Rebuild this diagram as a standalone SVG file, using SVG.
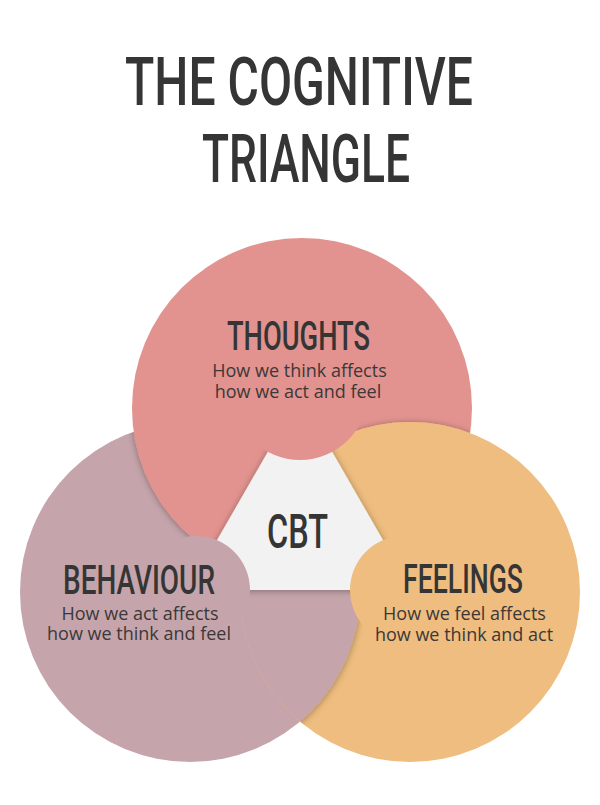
<svg xmlns="http://www.w3.org/2000/svg" width="600" height="805" viewBox="0 0 600 805">
  <style>
    .head { font-family: Roboto, "Liberation Sans", sans-serif; font-weight: 500; fill: #353535; }
    .body { font-family: "Open Sans", "Noto Sans", sans-serif; font-size: 18px; fill: #3c3838; text-anchor: middle; }
    .pink { fill: #e2938f; }
    .mauve { fill: #c5a5ab; }
    .orange { fill: #eebd7f; }
    .white { fill: #f2f2f2; }
  </style>
  <defs>
    <filter id="shadow" x="-20%" y="-20%" width="140%" height="140%">
      <feDropShadow dx="0" dy="1" stdDeviation="3.5" flood-color="#000" flood-opacity="0.35"/>
    </filter>
    <clipPath id="clipMauve"><circle cx="190" cy="592" r="170"/></clipPath>
    <clipPath id="clipPink"><circle cx="302" cy="408" r="170"/></clipPath>
    <clipPath id="clipOrange"><circle cx="410" cy="592" r="170"/></clipPath>
  </defs>
  <rect width="600" height="805" fill="#ffffff"/>

  <g id="title" class="head">
    <text x="125" y="105" font-size="67" textLength="348" lengthAdjust="spacingAndGlyphs">THE COGNITIVE</text>
    <text x="202" y="182" font-size="67" textLength="208" lengthAdjust="spacingAndGlyphs">TRIANGLE</text>
  </g>

  <g id="behaviour-circle">
    <circle class="mauve" cx="190" cy="592" r="170"/>
  </g>
  <g id="thoughts-circle">
    <g clip-path="url(#clipMauve)"><circle class="pink" cx="302" cy="408" r="170" filter="url(#shadow)"/></g>
    <circle class="pink" cx="302" cy="408" r="170"/>
  </g>
  <g id="feelings-circle">
    <g clip-path="url(#clipPink)"><circle class="orange" cx="410" cy="592" r="170" filter="url(#shadow)"/></g>
    <circle class="orange" cx="410" cy="592" r="170"/>
  </g>
  <g id="behaviour-overlap">
    <g clip-path="url(#clipOrange)"><circle class="mauve" cx="190" cy="592" r="170" filter="url(#shadow)"/></g>
  </g>

  <g id="cbt">
    <path class="white" filter="url(#shadow)" d="M300,396 L411.7,590 L188.3,590 Z"/>
    <circle class="pink" cx="300" cy="392" r="68"/>
    <circle class="mauve" cx="196" cy="590" r="54"/>
    <circle class="orange" cx="404" cy="590" r="54"/>
    <text class="head" x="267" y="548" font-size="49" textLength="61" lengthAdjust="spacingAndGlyphs">CBT</text>
  </g>

  <g id="thoughts">
    <text class="head" x="227" y="350" font-size="41" textLength="143" lengthAdjust="spacingAndGlyphs">THOUGHTS</text>
    <text class="body" x="299.5" y="377">How we think affects</text>
    <text class="body" x="298" y="398">how we act and feel</text>
  </g>
  <g id="behaviour">
    <text class="head" x="63" y="594" font-size="41" textLength="152" lengthAdjust="spacingAndGlyphs">BEHAVIOUR</text>
    <text class="body" x="140" y="620">How we act affects</text>
    <text class="body" x="139" y="640">how we think and feel</text>
  </g>
  <g id="feelings">
    <text class="head" x="403" y="593" font-size="41" textLength="120" lengthAdjust="spacingAndGlyphs">FEELINGS</text>
    <text class="body" x="464.5" y="620">How we feel affects</text>
    <text class="body" x="464" y="641">how we think and act</text>
  </g>
</svg>
